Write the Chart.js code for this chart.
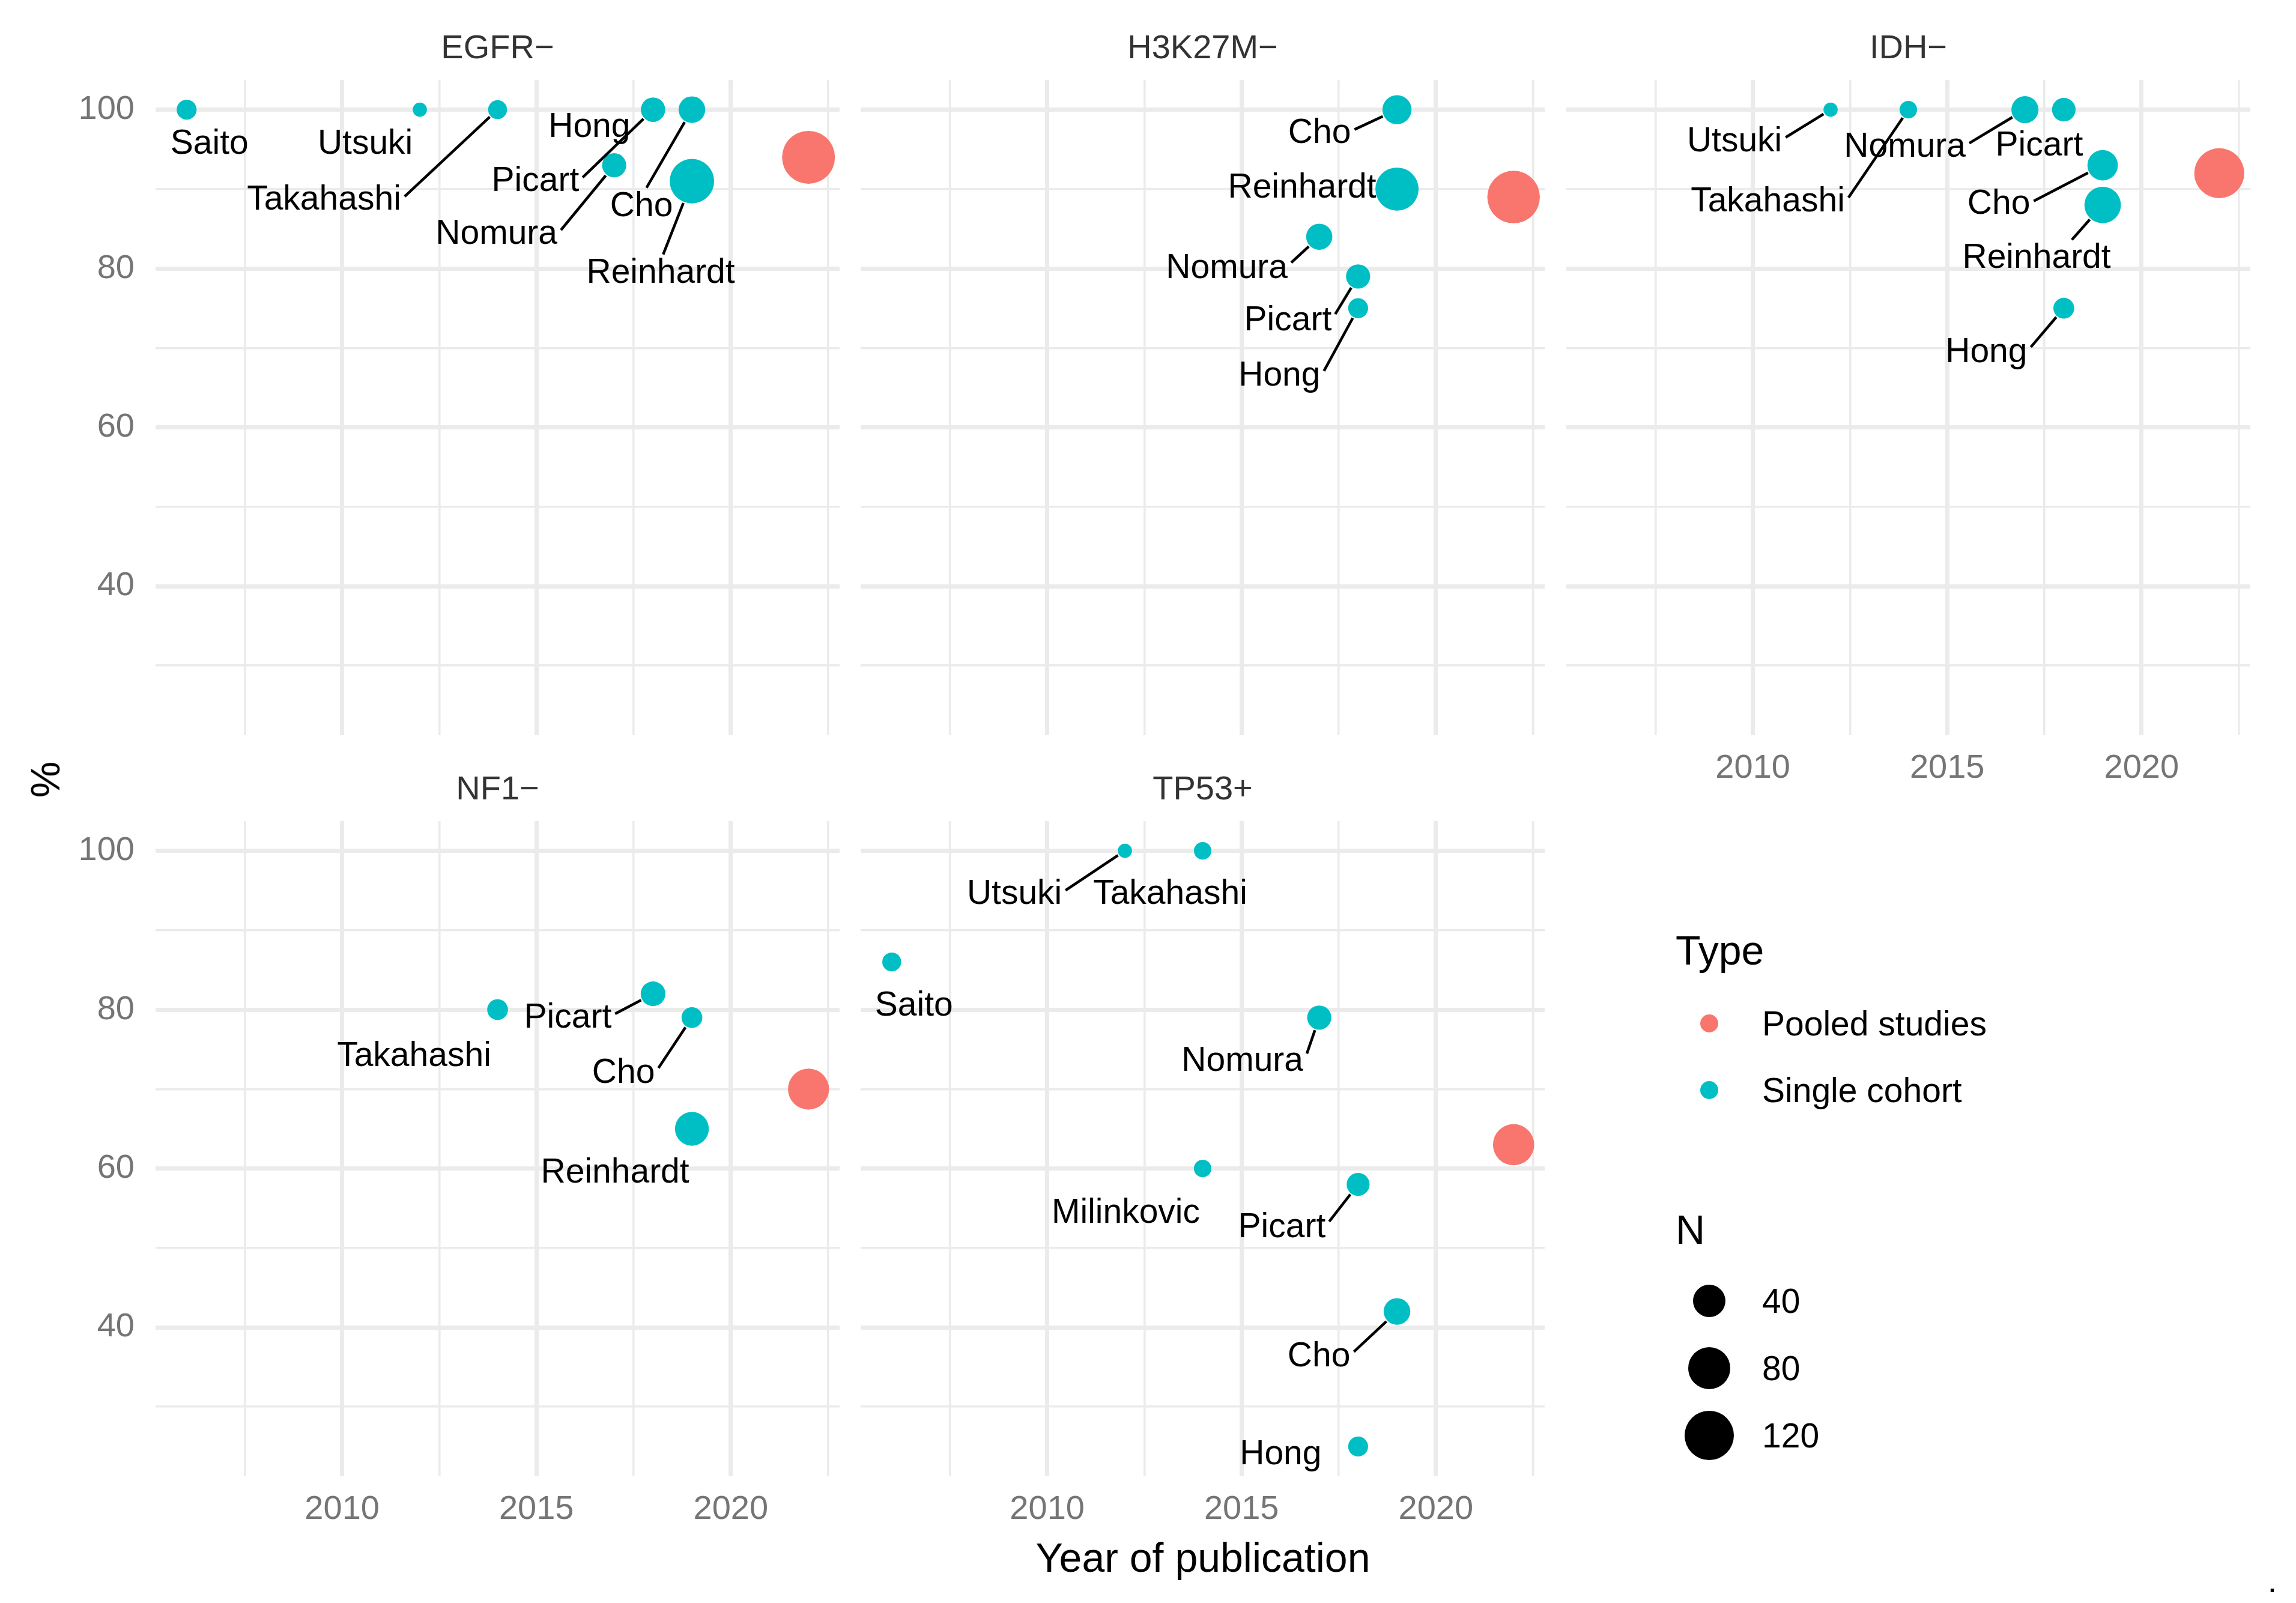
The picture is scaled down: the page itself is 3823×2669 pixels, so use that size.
<!DOCTYPE html>
<html>
<head>
<meta charset="utf-8">
<title>Year of publication vs %</title>
<script src="https://cdn.jsdelivr.net/npm/chart.js@4.4.0/dist/chart.umd.min.js"></script>
<style>
  html, body { margin: 0; padding: 0; background: #fff; }
  body { width: 3823px; height: 2669px; position: relative; overflow: hidden;
         font-family: "Liberation Sans", Arial, Helvetica, sans-serif; color: #000; }
  .panel { position: absolute; }
  .panel canvas { display: block; }
  .txt { position: absolute; white-space: nowrap; line-height: 1; }
  .key { position: absolute; border-radius: 50%; }
</style>
</head>
<body>
<script>
/* ---------- Données ---------- */
const PANELS = ['EGFR−', 'H3K27M−', 'IDH−', 'NF1−', 'TP53+'];
const STUDIES = ['Saito', 'Utsuki', 'Takahashi', 'Milinkovic', 'Nomura', 'Hong', 'Picart', 'Cho', 'Reinhardt', 'Pooled'];
const YEAR = [2006, 2012, 2014, 2014, 2017, 2018, 2018, 2019, 2019, 2022];
const TYPE = ['Single cohort', 'Single cohort', 'Single cohort', 'Single cohort', 'Single cohort',
  'Single cohort', 'Single cohort', 'Single cohort', 'Single cohort', 'Pooled studies'];

// % par panneau (null = étude absente du panneau)
const EGFR_PCT   = [100, 100, 100, null, 93, 100, 100, 100, 91, 94];
const H3K27M_PCT = [null, null, null, null, 84, 75, 79, 100, 90, 89];
const IDH_PCT    = [null, 100, 100, null, 100, 75, 100, 93, 88, 92];
const NF1_PCT    = [null, null, 80, null, null, null, 82, 79, 65, 70];
const TP53_PCT   = [86, 100, 100, 60, 79, 25, 58, 42, null, 63];

// effectifs N (taille des bulles)
const EGFR_N   = [13, 10, 12, null, 19, 19, 19, 24, 93, 145];
const H3K27M_N = [null, null, null, null, 23, 13, 19, 30, 86, 143];
const IDH_N    = [null, 10, 11, null, 25, 14, 18, 34, 55, 126];
const NF1_N    = [null, null, 14, null, null, null, 20, 14, 45, 75];
const TP53_N   = [12, 10, 11, 11, 19, 13, 17, 24, null, 76];

const X_TICKS = [2007.5, 2010, 2012.5, 2015, 2017.5, 2020, 2022.5];
const X_LABELS = [2010, 2015, 2020];
const Y_TICKS = [30, 40, 50, 60, 70, 80, 90, 100];
const Y_LABELS = [40, 60, 80, 100];
const N_BREAKS = [40, 80, 120];
const TYPES = ['Pooled studies', 'Single cohort'];

/* ---------- Mise en page / styles ---------- */
const FONT = '"Liberation Sans", Arial, Helvetica, sans-serif';
const COLORS = { 'Pooled studies': '#F8766D', 'Single cohort': '#00BFC4' };
const X_MIN = 2005.2, X_MAX = 2022.8, Y_MIN = 21.25, Y_MAX = 103.75;
const PANEL_W = 1139, PANEL_H = 1091;
const COL_LEFT = [259, 1433, 2608];
const ROW_TOP = [133, 1367];
const STRIP_H = 78, X_AXIS_H = 95;
const GRID = '#EBEBEB';

// position des panneaux : [colonne, ligne, labels x, labels y]
const PANEL_POS = [[0, 0, false, true], [1, 0, false, false], [2, 0, true, false], [0, 1, true, true], [1, 1, true, false]];

// étiquettes façon ggrepel : [dx, dy (ligne de base), segment] en px depuis le point
const LABEL_LAYOUT = [
  { Saito: [38, 73, 0], Utsuki: [-91, 73, 0], Takahashi: [-289, 166, 1], Nomura: [-196, 131, 1],
    Hong: [-106, 45, 0], Picart: [-196, 135, 1], Cho: [-84, 177, 1], Reinhardt: [-52, 169, 1] },
  { Cho: [-129, 55, 1], Reinhardt: [-158, 14, 0], Nomura: [-154, 69, 1], Picart: [-117, 90, 1], Hong: [-131, 129, 1] },
  { Utsuki: [-160, 69, 1], Takahashi: [-234, 169, 1], Nomura: [-200, 78, 1], Picart: [-41, 76, 0],
    Cho: [-173, 81, 1], Reinhardt: [-110, 105, 1], Hong: [-129, 90, 1] },
  { Takahashi: [-139, 94, 0], Picart: [-142, 56, 1], Cho: [-114, 109, 1], Reinhardt: [-128, 90, 0] },
  { Utsuki: [-184, 88, 1], Takahashi: [-54, 88, 0], Saito: [37, 89, 0], Nomura: [-128, 89, 1],
    Milinkovic: [-128, 90, 0], Picart: [-127, 88, 1], Cho: [-130, 91, 1], Hong: [-129, 30, 0] },
];

const PANEL_PCT = [EGFR_PCT, H3K27M_PCT, IDH_PCT, NF1_PCT, TP53_PCT];
const PANEL_N = [EGFR_N, H3K27M_N, IDH_N, NF1_N, TP53_N];

// échelle de taille (aire ~ N)
const sizeR = (n) => 11.8 + 2.77 * Math.sqrt(Math.max(n - 10, 0));

/* ---------- Plugins ---------- */
const stripTitle = {
  id: 'stripTitle',
  afterDraw(chart, args, opts) {
    const { ctx, chartArea: a } = chart;
    ctx.save();
    ctx.font = `56px ${FONT}`;
    ctx.fillStyle = '#333333';
    ctx.textAlign = 'center';
    ctx.textBaseline = 'middle';
    ctx.fillText(opts.text, (a.left + a.right) / 2, a.top - 23 - 28);
    ctx.restore();
  },
};

// point de départ du segment sur la boîte du texte (même logique que ggrepel)
function connection(px, py, b) {
  let ox, oy, lr = false, tb = false;
  if (px >= b.l && px <= b.r) ox = px; else { ox = px > b.r ? b.r : b.l; lr = true; }
  if (py >= b.t && py <= b.b) oy = py; else { oy = py > b.b ? b.b : b.t; tb = true; }
  const mx = (b.l + b.r) / 2, my = (b.t + b.b) / 2;
  const d = Math.hypot(px - ox, py - oy);
  if (tb && !lr) {
    const alt = Math.hypot(px - mx, py - oy);
    ox += (mx - ox) * d / alt;
  } else if (lr && !tb) {
    const alt = Math.hypot(px - ox, py - my);
    oy += (my - oy) * d / alt;
  } else if (lr && tb) {
    const alt1 = Math.hypot(px - mx, py - oy);
    const alt2 = Math.hypot(px - ox, py - my);
    if (alt1 < alt2) ox += (mx - ox) * d / alt1;
    else oy += (my - oy) * d / alt2;
  }
  return [ox, oy];
}

const repel = {
  id: 'repel',
  afterDatasetsDraw(chart, args, opts) {
    const ctx = chart.ctx;
    const fs = 57, pad = 6;
    const meta = chart.getDatasetMeta(0);
    const pts = chart.data.datasets[0].data;
    ctx.save();
    ctx.font = `${fs}px ${FONT}`;
    const items = [];
    meta.data.forEach((el, i) => {
      const raw = pts[i];
      const L = opts.layout[raw.study];
      if (!L) return;
      items.push({ px: el.x, py: el.y, r: sizeR(raw.n), name: raw.study, cx: el.x + L[0], base: el.y + L[1], seg: L[2] });
    });
    // segments
    ctx.strokeStyle = '#000';
    ctx.lineWidth = 4.5;
    items.filter((d) => d.seg).forEach((d) => {
      const w = ctx.measureText(d.name).width;
      const box = { l: d.cx - w / 2 - pad, r: d.cx + w / 2 + pad, t: d.base - 0.72 * fs - pad, b: d.base + 0.05 * fs + pad };
      const [sx, sy] = connection(d.px, d.py, box);
      const dx = sx - d.px, dy = sy - d.py, len = Math.hypot(dx, dy);
      const ex = d.px + dx / len * (d.r + 2), ey = d.py + dy / len * (d.r + 2);
      ctx.beginPath();
      ctx.moveTo(sx, sy);
      ctx.lineTo(ex, ey);
      ctx.stroke();
    });
    // textes
    ctx.fillStyle = '#000';
    ctx.textAlign = 'center';
    ctx.textBaseline = 'alphabetic';
    items.forEach((d) => ctx.fillText(d.name, d.cx, d.base));
    ctx.restore();
  },
};

const noPad = (s) => { s.paddingTop = 0; s.paddingBottom = 0; s.paddingLeft = 0; s.paddingRight = 0; };

/* ---------- Panneaux ---------- */
function makePanel(k) {
  const [col, row, showX, showY] = PANEL_POS[k];
  const yW = showY ? COL_LEFT[0] : 0;
  const xH = showX ? X_AXIS_H : 0;
  const W = PANEL_W + yW, H = STRIP_H + PANEL_H + xH;

  const div = document.createElement('div');
  div.className = 'panel';
  div.style.left = (COL_LEFT[col] - yW) + 'px';
  div.style.top = (ROW_TOP[row] - STRIP_H) + 'px';
  const canvas = document.createElement('canvas');
  canvas.width = W; canvas.height = H;
  canvas.style.width = W + 'px'; canvas.style.height = H + 'px';
  div.appendChild(canvas);
  document.body.appendChild(div);

  const pct = PANEL_PCT[k], ns = PANEL_N[k];
  const byType = (t) => STUDIES
    .map((s, i) => ({ x: YEAR[i], y: pct[i], n: ns[i], study: s, type: TYPE[i] }))
    .filter((d) => d.y !== null && d.type === t);

  const ds = (t) => ({
    label: t,
    data: byType(t),
    backgroundColor: COLORS[t],
    borderWidth: 0,
    pointRadius: (c) => sizeR(c.raw.n),
    pointHoverRadius: (c) => sizeR(c.raw.n),
    clip: false,
  });

  const tickFont = { family: FONT, size: 56, lineHeight: 1 };

  new Chart(canvas, {
    type: 'scatter',
    data: { datasets: [ds('Single cohort'), ds('Pooled studies')] },
    plugins: [stripTitle, repel],
    options: {
      responsive: false,
      animation: false,
      events: [],
      layout: { padding: { top: STRIP_H, left: 0, right: 0, bottom: 0 }, autoPadding: false },
      plugins: {
        legend: { display: false },
        tooltip: { enabled: false },
        stripTitle: { text: PANELS[k] },
        repel: { layout: LABEL_LAYOUT[k] },
      },
      scales: {
        x: {
          type: 'linear', min: X_MIN, max: X_MAX,
          afterBuildTicks: (s) => { s.ticks = X_TICKS.map((v) => ({ value: v })); },
          afterFit: (s) => { s.height = xH; noPad(s); },
          border: { display: false },
          grid: { color: GRID, lineWidth: (c) => (X_LABELS.includes(c.tick && c.tick.value) ? 7 : 3.6), drawTicks: false, tickLength: 0 },
          ticks: {
            display: showX, autoSkip: false, maxRotation: 0, padding: 28, color: '#757575', font: tickFont,
            callback: (v) => (X_LABELS.includes(v) ? String(v) : ''),
          },
        },
        y: {
          type: 'linear', min: Y_MIN, max: Y_MAX,
          afterBuildTicks: (s) => { s.ticks = Y_TICKS.map((v) => ({ value: v })); },
          afterFit: (s) => { s.width = yW; noPad(s); },
          border: { display: false },
          grid: { color: GRID, lineWidth: (c) => (Y_LABELS.includes(c.tick && c.tick.value) ? 7 : 3.6), drawTicks: false, tickLength: 0 },
          ticks: {
            display: showY, autoSkip: false, padding: 35, color: '#757575', font: tickFont,
            callback: (v) => (Y_LABELS.includes(v) ? String(v) : ''),
          },
        },
      },
    },
  });
}

PANELS.forEach((p, k) => makePanel(k));

/* ---------- Titres d'axes, légende ---------- */
function addText(str, x, capCenter, fs, opts = {}) {
  const el = document.createElement('div');
  el.className = 'txt';
  el.textContent = str;
  el.style.fontSize = fs + 'px';
  el.style.top = (capCenter - 0.49 * fs) + 'px';
  if (opts.align === 'center') { el.style.left = x + 'px'; el.style.transform = 'translateX(-50%)'; }
  else if (opts.align === 'right') { el.style.right = (3823 - x) + 'px'; }
  else el.style.left = x + 'px';
  document.body.appendChild(el);
  return el;
}

addText('Year of publication', (COL_LEFT[0] + COL_LEFT[2] + PANEL_W) / 2, 2592, 68, { align: 'center' });
const pctTitle = addText('%', 75, 1297, 68, { align: 'center' });
pctTitle.style.transform = 'translateX(-50%) rotate(-90deg)';

function addKey(cx, cy, r, color) {
  const el = document.createElement('div');
  el.className = 'key';
  el.style.left = (cx - r) + 'px';
  el.style.top = (cy - r) + 'px';
  el.style.width = el.style.height = (2 * r) + 'px';
  el.style.background = color;
  document.body.appendChild(el);
}

addText('Type', 2790, 1581, 68);
TYPES.forEach((t, i) => {
  const cy = 1704 + i * 111;
  addKey(2846, cy, 15, COLORS[t]);
  addText(t, 2934, cy, 57);
});
addText('N', 2790, 2046, 68);
N_BREAKS.forEach((n, i) => {
  const cy = 2166 + i * 112;
  addKey(2846, cy, sizeR(n), '#000');
  addText(String(n), 2934, cy, 57);
});
addText('.', 3791, 2632, 55, { align: 'right' });
</script>
</body>
</html>
